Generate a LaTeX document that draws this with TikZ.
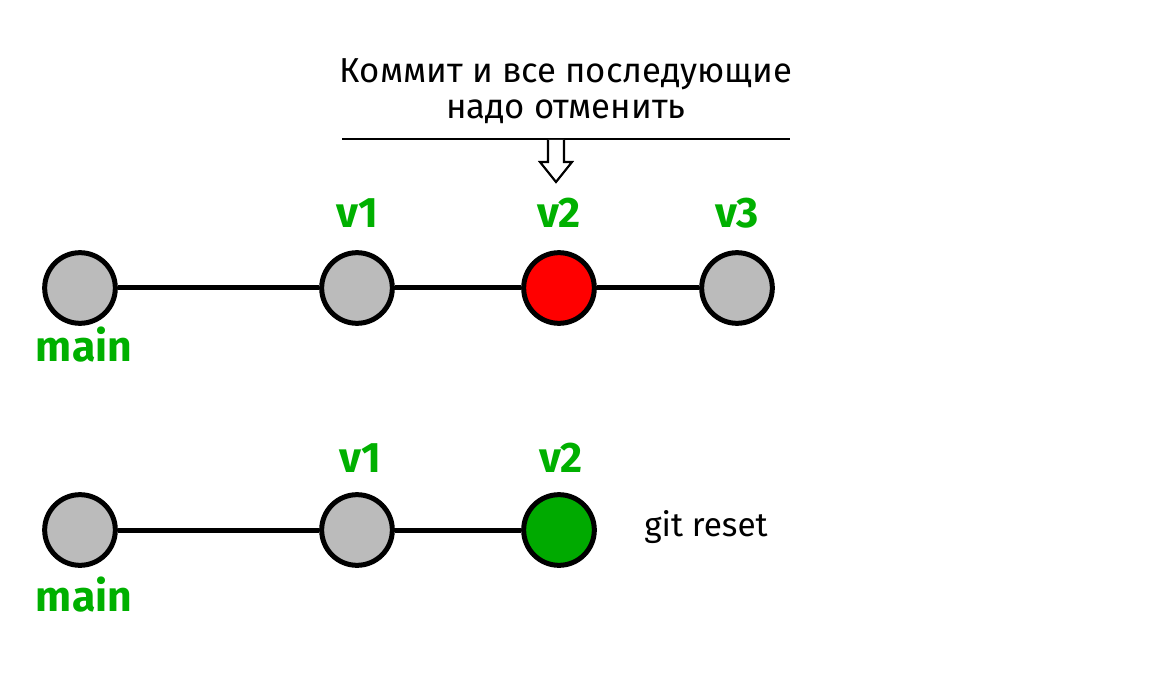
\documentclass[tikz,border=0pt]{standalone}
\usepackage{fontspec}
\setmainfont{Fira Sans}
\usetikzlibrary{positioning}

\definecolor{tagGreen}{RGB}{0,176,0}
\definecolor{commitGray}{RGB}{187,187,187}
\definecolor{commitRed}{RGB}{255,0,0}
\definecolor{commitGreen}{RGB}{0,170,0}

\tikzset{
  commit/.style={circle, draw=black, line width=3.75pt, minimum size=53pt, inner sep=0pt, fill=commitGray},
  link/.style={line width=3.75pt},
  tag/.style={text=tagGreen, font=\fontsize{32}{34}\selectfont\bfseries, inner sep=0pt},
  note/.style={font=\fontsize{26}{28}\selectfont, inner sep=0pt, align=center}
}

\begin{document}
\begin{tikzpicture}[x=0.75pt, y=-0.75pt]
\useasboundingbox (0,0) rectangle (1160,695);

% upper branch
\node[commit] (a0) at (80,288) {};
\node[commit] (a1) at (357,288) {};
\node[commit, fill=commitRed] (a2) at (559,288) {};
\node[commit] (a3) at (737,288) {};
\draw[link] (a0) -- (a1);
\draw[link] (a1) -- (a2);
\draw[link] (a2) -- (a3);

\node[tag, anchor=base] (ta1) at (357,228) {v1};
\node[tag, anchor=base] (ta2) at (559,228) {v2};
\node[tag, anchor=base] (ta3) at (737,228) {v3};
\node[tag, anchor=base] (tmain) at (84,361) {main};

% comment + arrow
\node[note, anchor=base] (txt1) at (566,83) {Коммит и все последующие};
\node[note, anchor=base] (txt2) at (566,119) {надо отменить};
\coordinate (barL) at (342,139);
\coordinate (barR) at (790,139);
\draw[line width=2.2pt] (barL) -- (barR);
\draw[line width=1.6pt, fill=white]
  (548,140) -- (548,162) -- (540,162) -- (556,182) -- (572,162) -- (564,162) -- (564,140);

% lower branch
\node[commit] (b0) at (80,530) {};
\node[commit] (b1) at (357,530) {};
\node[commit, fill=commitGreen] (b2) at (559,530) {};
\draw[link] (b0) -- (b1);
\draw[link] (b1) -- (b2);

\node[tag, anchor=base] (tb1) at (360,472) {v1};
\node[tag, anchor=base] (tb2) at (561,472) {v2};
\node[tag, anchor=base] (tbmain) at (84,611) {main};
\node[note, anchor=base, font=\fontsize{25}{28}\selectfont] (reset) at (706,536) {git reset};

\end{tikzpicture}
\end{document}
